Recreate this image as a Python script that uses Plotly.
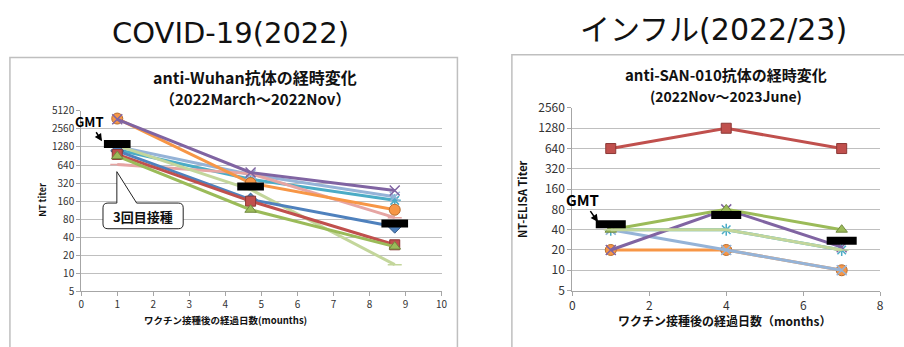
import math
import plotly.graph_objects as go

W, H = 904, 347


def px(x):
    return x / W


def py(y):
    return 1 - y / H


# ---------------- data ----------------
covid_x = [1, 4.7, 8.7]
covid_blue = [1100, 170, 60]
covid_red = [960, 160, 30]
covid_green = [900, 115, 28]
covid_purple = [3700, 480, 240]
covid_teal = [1150, 370, 165]
covid_orange = [3800, 320, 115]
covid_lightblue = [1300, 445, 190]
covid_pink = [650, 460, 85]
covid_lightgreen = [1350, 250, 14]
covid_gmt = [1440, 280, 68]

flu_x = [1, 4, 7]
flu_red = [640, 1280, 640]
flu_green = [40, 80, 40]
flu_purple = [20, 80, 22]
flu_orange = [20, 20, 10]
flu_teal = [40, 40, 20]
flu_lightgreen = [40, 40, 20]
flu_lightblue = [40, 20, 10]
flu_gmt = [48, 66, 27.5]

covid_ticks = [5, 10, 20, 40, 80, 160, 320, 640, 1280, 2560, 5120]
flu_ticks = [5, 10, 20, 40, 80, 160, 320, 640, 1280, 2560]

# ---------------- styles ----------------
STY = {
    "blue": ("#4F81BD", "#385D8A", "diamond", 10),
    "red": ("#C0504D", "#8C3836", "square", 10),
    "green": ("#9BBB59", "#71893F", "triangle-up", 10),
    "purple": ("#8064A2", "#5C4776", "x-thin-open", 10),
    "teal": ("#4BACC6", "#357D91", "asterisk-open", 10),
    "orange": ("#F79646", "#B66D31", "circle", 11),
    "lightblue": ("#95B3D7", "#6F88A8", "x-thin-open", 10),
    "pink": ("#E6A5A3", "#C08280", "line-ew-open", 10),
    "lightgreen": ("#C3D69B", "#98A878", "line-ew-open", 10),
}

FONT = "Noto Sans CJK JP"
HEAD_FONT = "DejaVu Sans, Noto Sans CJK JP"
fig = go.Figure()


def add_series(xs, ys, key, xa, ya):
    col, edge, sym, size = STY[key]
    fig.add_trace(go.Scatter(
        x=xs, y=ys, mode="lines+markers", xaxis=xa, yaxis=ya,
        line=dict(color=col, width=3),
        marker=dict(symbol=sym, size=size, color=col,
                    line=dict(color=col if "open" in sym else edge, width=1.5 if "open" in sym else 1)),
        showlegend=False, hoverinfo="skip"))


covid_series = {
    "teal": covid_teal, "lightblue": covid_lightblue, "pink": covid_pink,
    "orange": covid_orange, "purple": covid_purple, "lightgreen": covid_lightgreen,
    "blue": covid_blue, "red": covid_red, "green": covid_green,
}
for k, v in covid_series.items():
    add_series(covid_x, v, k, "x", "y")

flu_series = {
    "teal": flu_teal, "orange": flu_orange, "lightblue": flu_lightblue,
    "purple": flu_purple, "green": flu_green, "lightgreen": flu_lightgreen, "red": flu_red,
}
for k, v in flu_series.items():
    add_series(flu_x, v, k, "x2", "y2")


def gmt_trace(xs, ys, half, xa, ya):
    gx, gy = [], []
    for x, y in zip(xs, ys):
        gx += [x - half, x + half, None]
        gy += [y, y, None]
    fig.add_trace(go.Scatter(x=gx, y=gy, mode="lines", xaxis=xa, yaxis=ya,
                             line=dict(color="black", width=8),
                             showlegend=False, hoverinfo="skip"))


gmt_trace(covid_x, covid_gmt, 0.37, "x", "y")
gmt_trace(flu_x, flu_gmt, 0.39, "x2", "y2")

axis_common = dict(showline=True, linecolor="#A6A6A6", linewidth=1, ticks="outside",
                   tickcolor="#A6A6A6", ticklen=4, zeroline=False, mirror=False)

fig.update_layout(
    width=W, height=H, margin=dict(l=0, r=0, t=0, b=0),
    paper_bgcolor="white", plot_bgcolor="white",
    font=dict(family=FONT, color="#222"),
    xaxis=dict(domain=[px(79), px(443)], range=[0, 10], dtick=1, showgrid=False,
               tickfont=dict(size=10, color="#333"), anchor="y", **axis_common),
    yaxis=dict(domain=[py(296), py(106)], type="log",
               range=[math.log10(5), math.log10(5120)],
               tickvals=covid_ticks, ticktext=[str(t) for t in covid_ticks],
               showgrid=True, gridcolor="#BFBFBF", gridwidth=1,
               tickfont=dict(size=10, color="#333"), anchor="x", **axis_common),
    xaxis2=dict(domain=[px(575), px(886)], range=[0, 8], dtick=2, showgrid=False,
                tickfont=dict(size=12, color="#333"), anchor="y2", **axis_common),
    yaxis2=dict(domain=[py(295), py(103)], type="log",
                range=[math.log10(5), math.log10(2560)],
                tickvals=flu_ticks, ticktext=[str(t) for t in flu_ticks],
                showgrid=True, gridcolor="#BFBFBF", gridwidth=1,
                tickfont=dict(size=12, color="#333"), anchor="x2", **axis_common),
)

shapes = []
# panel frames
shapes.append(dict(type="rect", xref="paper", yref="paper",
                   x0=px(7), x1=px(459), y0=py(360), y1=py(50),
                   line=dict(color="#BFBFBF", width=1.5), layer="below"))
shapes.append(dict(type="rect", xref="paper", yref="paper",
                   x0=px(514), x1=px(912), y0=py(360), y1=py(47),
                   line=dict(color="#BFBFBF", width=1.5), layer="below"))

# callout bubble for 3回目接種
bx0, bx1, by0, by1, r = 101, 182, 203, 230, 5
ax0, ax1, apx, apy = 115, 135, 115, 170
pts = (
    f"M {px(bx0 + r)},{py(by0)} L {px(ax0)},{py(by0)} L {px(apx)},{py(apy)} L {px(ax1)},{py(by0)} "
    f"L {px(bx1 - r)},{py(by0)} Q {px(bx1)},{py(by0)} {px(bx1)},{py(by0 + r)} "
    f"L {px(bx1)},{py(by1 - r)} Q {px(bx1)},{py(by1)} {px(bx1 - r)},{py(by1)} "
    f"L {px(bx0 + r)},{py(by1)} Q {px(bx0)},{py(by1)} {px(bx0)},{py(by1 - r)} "
    f"L {px(bx0)},{py(by0 + r)} Q {px(bx0)},{py(by0)} {px(bx0 + r)},{py(by0)} Z"
)
shapes.append(dict(type="path", xref="paper", yref="paper", path=pts,
                   fillcolor="white", line=dict(color="#222", width=1)))
fig.update_layout(shapes=shapes)

ann = []


def text(x, y, s, size, bold=False, angle=0, color="#111", family=FONT):
    ann.append(dict(x=px(x), y=py(y), xref="paper", yref="paper", text=s,
                    showarrow=False, xanchor="center", yanchor="middle", textangle=angle,
                    font=dict(size=size, family=family, color=color,
                              weight="bold" if bold else "normal")))


# panel headings
text(230, 24, "COVID-19(2022)", 29, family=HEAD_FONT)
text(718, 21, "インフル(2022/23)", 30, family=HEAD_FONT)

# chart titles
text(255, 70, "anti-Wuhan抗体の経時変化", 16, bold=True)
text(255, 93, "（2022March～2022Nov）", 15, bold=True)
text(730, 68, "anti-SAN-010抗体の経時変化", 15, bold=True)
text(730, 90, "(2022Nov～2023June)", 14, bold=True)

# axis titles
text(225, 326, "ワクチン接種後の経過日数(mounths)", 9.5, bold=True)
text(40, 200, "NT titer", 9, bold=True, angle=-90)
text(729, 326, "ワクチン接種後の経過日数（months）", 12, bold=True)
text(524, 199, "NT-ELISA Titer", 11, bold=True, angle=-90)

# callout text
text(141, 217, "3回目接種", 13, bold=True)

# GMT labels with arrows
ann.append(dict(x=px(100), y=py(138), xref="paper", yref="paper", text="GMT",
                showarrow=True, arrowhead=2, arrowsize=1, arrowwidth=1.5, arrowcolor="black",
                ax=-13, ay=-20, axref="pixel", ayref="pixel",
                font=dict(size=13, family=FONT, color="black", weight="bold")))
ann.append(dict(x=px(601), y=py(223), xref="paper", yref="paper", text="GMT",
                showarrow=True, arrowhead=2, arrowsize=1, arrowwidth=1.5, arrowcolor="black",
                ax=-16, ay=-23, axref="pixel", ayref="pixel",
                font=dict(size=15, family=FONT, color="black", weight="bold")))

fig.update_layout(annotations=ann)
fig.write_html("out.html")
